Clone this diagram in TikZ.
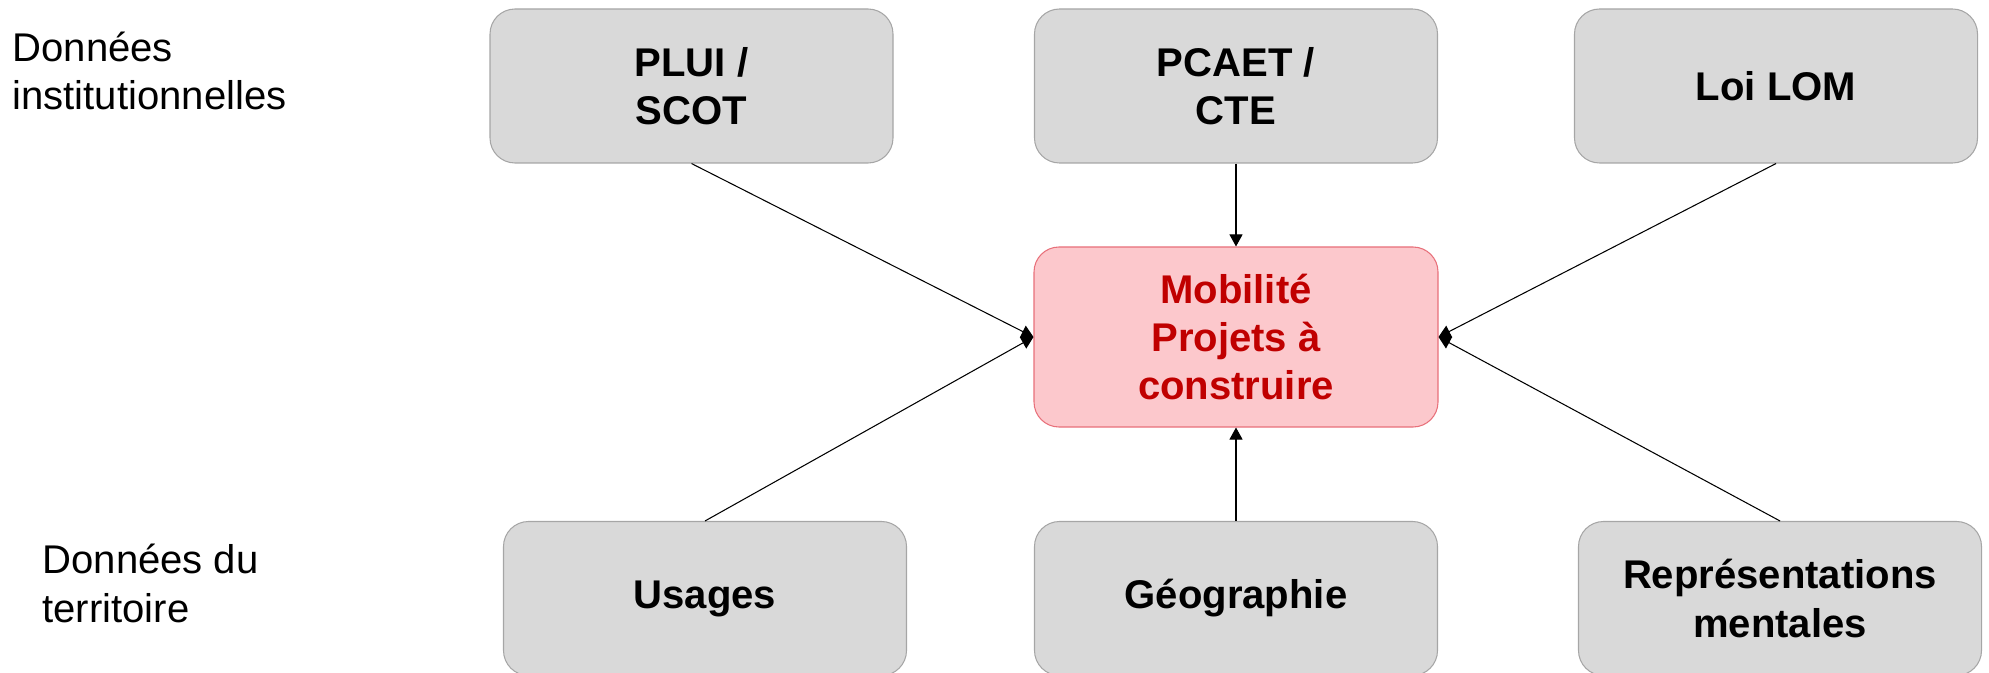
\documentclass[tikz,border=0pt]{standalone}
\usepackage{fontspec}
\setmainfont{Liberation Sans}
\usepackage{xcolor}
\usetikzlibrary{arrows.meta}

\definecolor{grisboite}{HTML}{D9D9D9}
\definecolor{grisbord}{HTML}{A6A6A6}
\definecolor{roseboite}{HTML}{FCC8CC}
\definecolor{rosebord}{HTML}{E8707A}
\definecolor{rougetexte}{HTML}{C00000}

\begin{document}
\begin{tikzpicture}[line width=0.6pt,
  boite/.style={draw=grisbord,fill=grisboite,rounded corners=0.5cm,minimum width=8.06cm,minimum height=3.08cm,align=center,font=\fontsize{22.8}{27.5}\selectfont\bfseries},
  cible/.style={boite,draw=rosebord,fill=roseboite,minimum width=8.08cm,minimum height=3.6cm,text=rougetexte},
  legende/.style={anchor=base west,inner sep=0pt,align=left,font=\fontsize{22.8}{27.5}\selectfont},
  fleche/.style={-{Triangle[length=0.24cm,width=0.26cm]}}]
\useasboundingbox (0,0) rectangle (39.78,-13.46);

\node[legende] (inst) at (0.24,-2.2) {Données\\institutionnelles};
\node[legende] (terr) at (0.84,-12.44) {Données du\\territoire};

\node[boite] (plui) at (13.83,-1.72) {PLUI /\\SCOT};
\node[boite] (pcaet) at (24.72,-1.72) {PCAET /\\CTE};
\node[boite] (lom) at (35.52,-1.72) {Loi LOM};

\node[cible] (mobi) at (24.72,-6.74) {Mobilité\\Projets à\\construire};

\node[boite] (usages) at (14.10,-11.97) {Usages};
\node[boite] (geo) at (24.72,-11.97) {Géographie};
\node[boite] (repr) at (35.60,-11.97) {Représentations\\mentales};

\draw[fleche] (plui.south) -- (mobi.west);
\draw[fleche] (pcaet.south) -- (mobi.north);
\draw[fleche] (lom.south) -- (mobi.east);
\draw[fleche] (usages.north) -- (mobi.west);
\draw[fleche] (geo.north) -- (mobi.south);
\draw[fleche] (repr.north) -- (mobi.east);
\end{tikzpicture}
\end{document}
